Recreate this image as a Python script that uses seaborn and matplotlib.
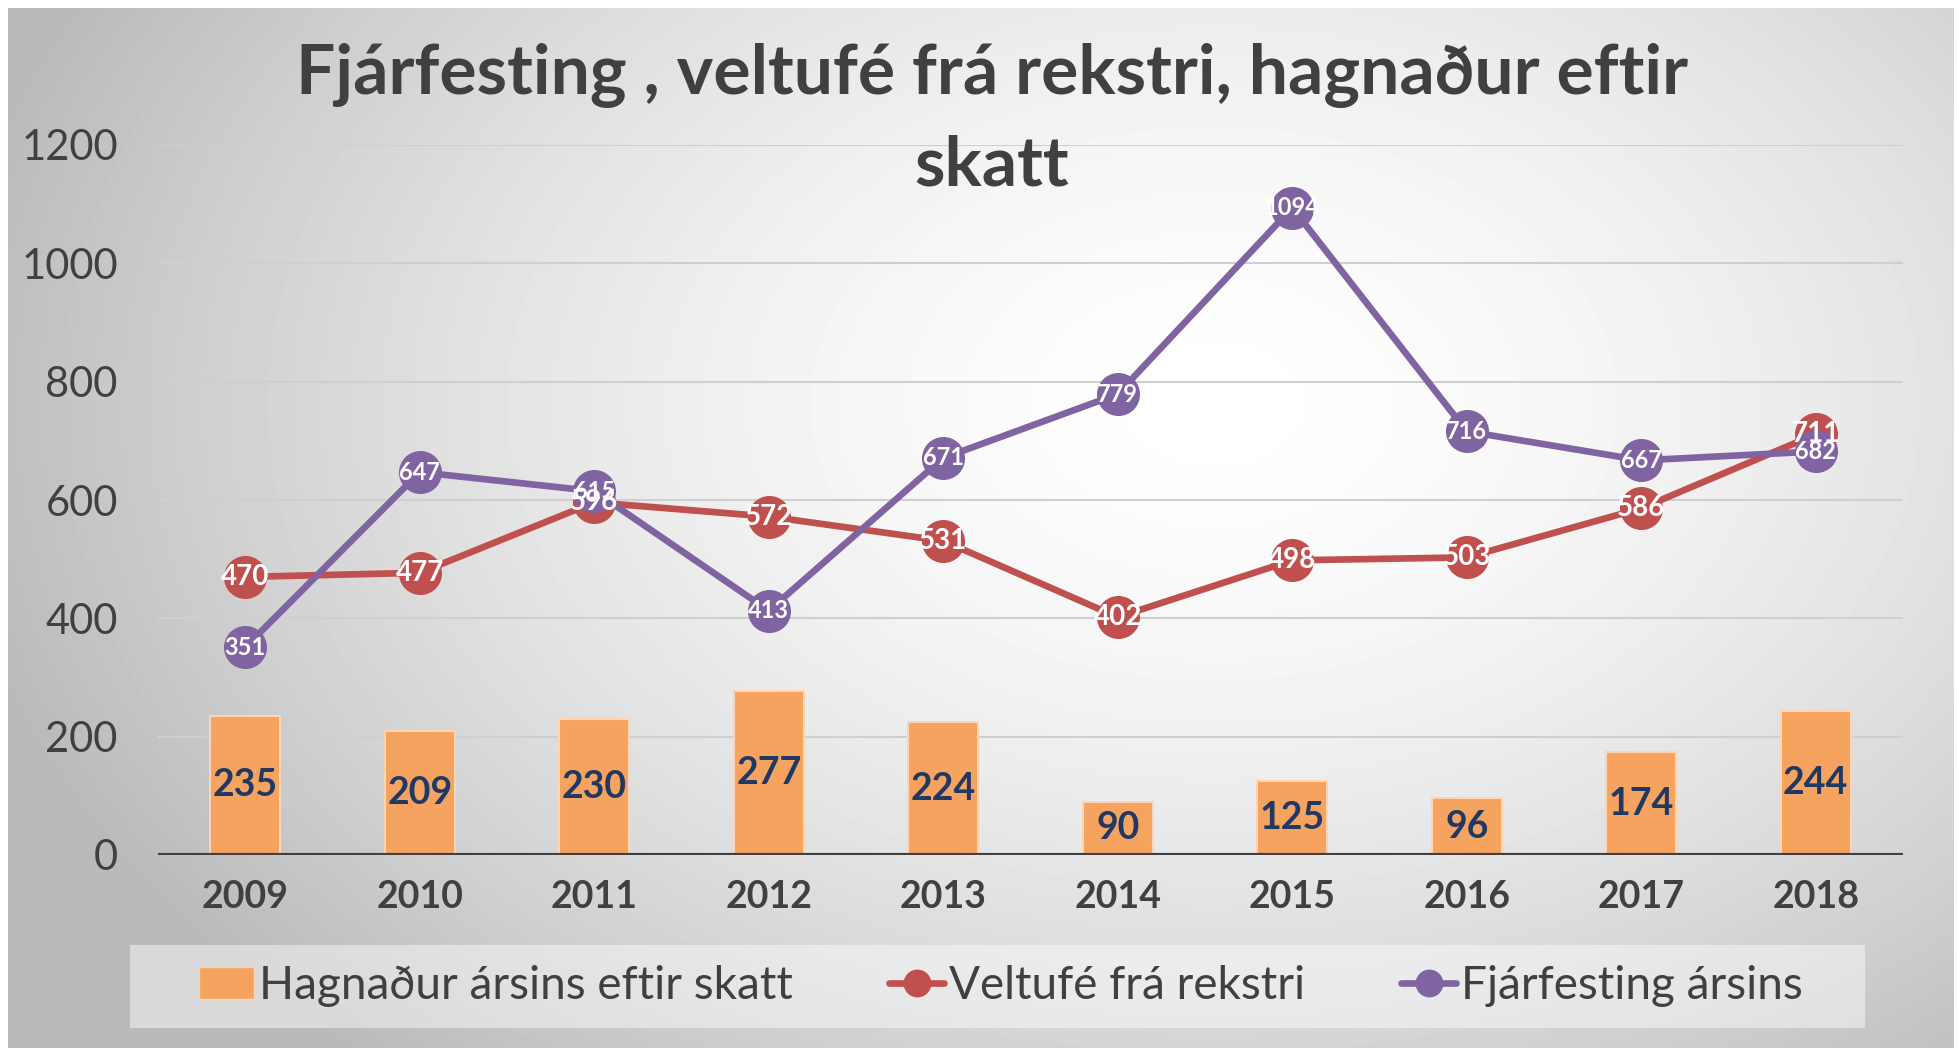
import numpy as np
import pandas as pd
import matplotlib
matplotlib.use("Agg")
import matplotlib.pyplot as plt
import seaborn as sns
from matplotlib.lines import Line2D
from matplotlib.patches import Patch, Rectangle

years = ["2009", "2010", "2011", "2012", "2013", "2014", "2015", "2016", "2017", "2018"]
hagnadur = [235, 209, 230, 277, 224, 90, 125, 96, 174, 244]
veltufe = [470, 477, 596, 572, 531, 402, 498, 503, 586, 711]
fjarfesting = [351, 647, 615, 413, 671, 779, 1094, 716, 667, 682]

title_1 = "Fjárfesting , veltufé frá rekstri, hagnaður eftir"
title_2 = "skatt"
lbl_bar = "Hagnaður ársins eftir skatt"
lbl_red = "Veltufé frá rekstri"
lbl_purple = "Fjárfesting ársins"

ORANGE = "#F5A35E"
RED = "#C0504D"
PURPLE = "#8064A2"
TXT = "#404040"

sns.set_theme(style="white")
plt.rcParams["font.family"] = ["Lato", "DejaVu Sans"]

df = pd.DataFrame({"year": years, "hagnadur": hagnadur,
                   "veltufe": veltufe, "fjarfesting": fjarfesting})
df["pos"] = np.arange(len(df))

W, H = 1957, 1052
fig = plt.figure(figsize=(W / 100, H / 100), dpi=100)
fig.patch.set_facecolor("white")

# radial gradient background (white centre, grey edges)
bg = fig.add_axes([8 / W, 4 / H, (W - 11) / W, (H - 12) / H], zorder=0)
gx, gy = np.meshgrid(np.linspace(0, 1, 400), np.linspace(0, 1, 220))
r = np.sqrt(((gx - 0.62) / 0.7) ** 2 + ((gy - 0.38) / 0.9) ** 2)
val = np.clip(1.0 - 0.3 * r ** 1.6, 0.73, 1.0)
bg.imshow(val, cmap="gray", vmin=0, vmax=1, aspect="auto", extent=[0, 1, 0, 1],
          origin="upper", interpolation="bilinear")
bg.set_axis_off()

ax = fig.add_axes([158 / W, 1 - 855 / H, (1903 - 158) / W, (855 - 145) / H], zorder=1)
ax.patch.set_alpha(0)

sns.barplot(data=df, x="year", y="hagnadur", color=ORANGE, saturation=1, width=0.4,
            edgecolor="#FBD5B5", linewidth=1.5, ax=ax, zorder=2)

sns.lineplot(x=df["pos"], y=df["veltufe"], color=RED, marker="o",
             markersize=31, markeredgewidth=0, ax=ax, zorder=3, clip_on=False)
sns.lineplot(x=df["pos"], y=df["fjarfesting"], color=PURPLE, marker="o",
             markersize=31, markeredgewidth=0, ax=ax, zorder=4, clip_on=False)
for ln in ax.lines:
    ln.set_linewidth(4.8)

for i, row in df.iterrows():
    ax.text(row["pos"], row["hagnadur"] / 2, str(row["hagnadur"]), ha="center", va="center",
            fontsize=27, fontweight="bold", color="#203864", zorder=6)
    ax.text(row["pos"], row["veltufe"], str(row["veltufe"]), ha="center", va="center",
            fontsize=20, fontweight="bold", color="white", zorder=6)
    ax.text(row["pos"], row["fjarfesting"], str(row["fjarfesting"]), ha="center", va="center",
            fontsize=17, fontweight="bold", color="white", zorder=6)

ax.set_xlim(-0.5, len(years) - 0.5)
ax.set_ylim(0, 1200)
ax.set_yticks(range(0, 1201, 200))
ax.yaxis.grid(True, color="#CFCFCF", lw=1.5, zorder=0)
ax.xaxis.grid(False)
ax.axhline(0, color=TXT, lw=3, zorder=5)
for s in ax.spines.values():
    s.set_visible(False)
ax.set_xlabel("")
ax.set_ylabel("")
ax.tick_params(axis="y", length=0, pad=29, labelsize=30, labelcolor=TXT)
ax.tick_params(axis="x", length=0, pad=18, labelsize=27, labelcolor=TXT)
for t in ax.get_xticklabels():
    t.set_fontweight("bold")

fig.text(992 / W, 1 - 75 / H, title_1, ha="center", va="center", fontsize=50,
         fontweight="bold", color=TXT, zorder=7)
fig.text(992 / W, 1 - 166 / H, title_2, ha="center", va="center", fontsize=50,
         fontweight="bold", color=TXT, zorder=7)

# legend box
fig.add_artist(Rectangle((130 / W, 1 - 1028 / H), (1865 - 130) / W, 83 / H,
                         transform=fig.transFigure, facecolor="white", alpha=0.45,
                         edgecolor="none", zorder=2))
handles = [
    Patch(facecolor=ORANGE, edgecolor="#FBD5B5", label=lbl_bar),
    Line2D([0], [0], color=RED, lw=4.8, marker="o", markersize=19, label=lbl_red),
    Line2D([0], [0], color=PURPLE, lw=4.8, marker="o", markersize=19, label=lbl_purple),
]
fig.legend(handles=handles, loc="center", bbox_to_anchor=(1001 / W, 1 - 986 / H),
           ncol=3, frameon=False, fontsize=33, handlelength=1.2, handletextpad=0.1,
           columnspacing=2.1, labelcolor=TXT)

fig.savefig("out.png", dpi=100)
